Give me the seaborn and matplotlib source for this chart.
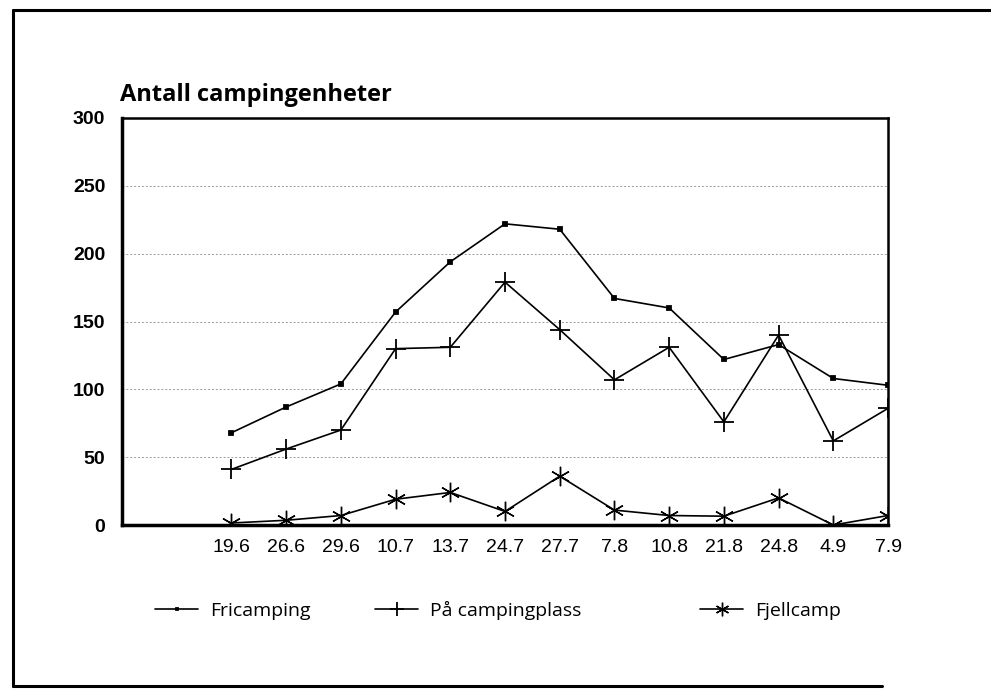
import matplotlib
matplotlib.use('Agg')

import numpy as np
import pandas as pd
import seaborn as sns
import matplotlib.pyplot as plt
from matplotlib.lines import Line2D

# =================================== DATA ===================================

dates = ['19.6', '26.6', '29.6', '10.7', '13.7', '24.7', '27.7', '7.8', '10.8', '21.8', '24.8', '4.9', '7.9']
fricamping = [68, 87, 104, 157, 194, 222, 218, 167, 160, 122, 133, 108, 103]
campingplass = [41, 56, 70, 130, 131, 179, 144, 107, 131, 76, 140, 62, 86]
fjellcamp = [1.5, 3.5, 7, 19, 24, 10, 36, 11, 7, 6.5, 20, 0, 7]

series_names = ['Fricamping', 'På campingplass', 'Fjellcamp']
y_ticks = [0, 50, 100, 150, 200, 250, 300]

# first two slots on the x axis are empty
positions = list(range(2, 2 + len(dates)))

# =================================== PLOT ===================================

sns.set_style('white')
plt.rcParams['font.family'] = ['Liberation Sans', 'DejaVu Sans']
plt.rcParams['text.color'] = 'black'

fig = plt.figure(figsize=(9.91, 6.9), dpi=100)
ax = fig.add_axes([0.1231, 0.2391, 0.7730, 0.5899])

markers = ['s', '+', (6, 2, 0)]
sizes = [3, 14, 14]
edge_widths = [1.3, 1.3, 1.0]
for name, values, marker, ms, mew in zip(series_names, [fricamping, campingplass, fjellcamp], markers, sizes, edge_widths):
    sns.lineplot(x=positions, y=values, ax=ax, color='black', linewidth=1.2,
                 marker=marker, markersize=ms, markeredgecolor='black',
                 markeredgewidth=mew, label=name, legend=False)

ax.set_xlim(0, 14)
ax.set_ylim(0, 300)

ax.set_xticks(range(1, 15))
ax.set_xticklabels([''] + dates, fontsize=14)
ax.set_yticks(y_ticks)
ax.set_yticklabels([str(v) for v in y_ticks], fontsize=14, fontweight='bold')

ax.tick_params(axis='x', direction='in', length=7, width=1, pad=10, colors='black')
ax.tick_params(axis='y', direction='out', length=6, width=1, pad=6, colors='black')

for y in y_ticks[1:-1]:
    ax.axhline(y, color='#9a9a9a', linestyle=(0, (2, 2)), linewidth=0.7, zorder=0)

ax.spines['left'].set_linewidth(2.5)
ax.spines['bottom'].set_linewidth(2.5)
ax.spines['top'].set_linewidth(1.8)
ax.spines['right'].set_linewidth(1.8)
for sp in ax.spines.values():
    sp.set_color('black')

ax.set_xlabel('')
ax.set_ylabel('')

fig.text(0.121, 0.845, 'Antall campingenheter', fontsize=17, fontweight='bold', color='black',
         family=['Open Sans', 'DejaVu Sans'], ha='left', va='bottom')

# legend entries spread along the bottom
handles = ax.get_lines()[:3]
legend_x = [0.139, 0.361, 0.689]
for h, name, lx in zip(handles, series_names, legend_x):
    leg = fig.legend([h], [name], loc='center left', bbox_to_anchor=(lx, 0.115),
                     frameon=False, handlelength=2.2, handletextpad=0.6, markerscale=0.7,
                     prop={'family': ['Open Sans', 'DejaVu Sans'], 'size': 14})

# outer frame of the scanned page
frame_kw = dict(color='black', linewidth=2.2, transform=fig.transFigure)
fig.add_artist(Line2D([0.013, 1.0], [0.986, 0.986], **frame_kw))
fig.add_artist(Line2D([0.013, 0.013], [0.986, 0.006], **frame_kw))
fig.add_artist(Line2D([0.013, 0.89], [0.006, 0.006], **frame_kw))

plt.savefig('out.png', dpi=100)
plt.close('all')
